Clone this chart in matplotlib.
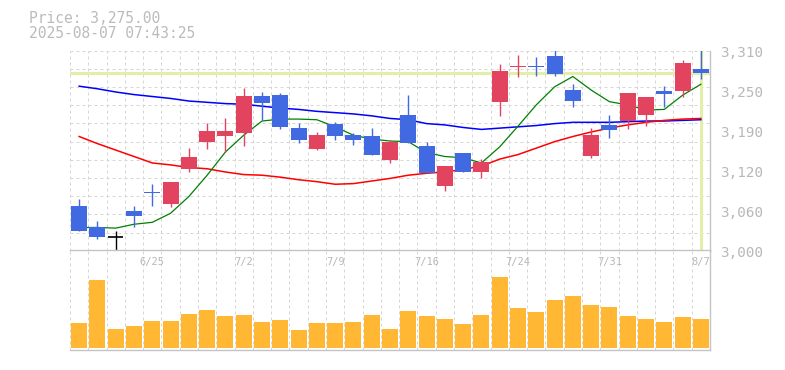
import matplotlib
matplotlib.use("Agg")
import matplotlib.pyplot as plt
from matplotlib.transforms import blended_transform_factory

# daily data 6/19 .. 8/7 (35 trading days)
dates = ["6/19", "6/20", "6/23", "6/24", "6/25", "6/26", "6/27", "6/30", "7/1", "7/2",
         "7/3", "7/4", "7/7", "7/8", "7/9", "7/10", "7/11", "7/14", "7/15", "7/16",
         "7/17", "7/18", "7/22", "7/23", "7/24", "7/25", "7/28", "7/29", "7/30", "7/31",
         "8/1", "8/4", "8/5", "8/6", "8/7"]
opens = [3069, 3036, 3021, 3062, 3091, 3073, 3127, 3169, 3178, 3183,
         3240, 3241, 3190, 3158, 3196, 3179, 3178, 3141, 3210, 3162,
         3101, 3151, 3122, 3231, 3285, 3286, 3302, 3249, 3147, 3195,
         3201, 3210, 3248, 3247, 3282]
highs = [3080, 3046, 3030, 3069, 3103, 3107, 3159, 3198, 3206, 3252,
         3246, 3245, 3198, 3184, 3200, 3182, 3190, 3172, 3241, 3169,
         3131, 3151, 3142, 3289, 3303, 3301, 3318, 3258, 3190, 3210,
         3244, 3238, 3255, 3296, 3320]
lows = [3031, 3018, 3000, 3037, 3070, 3067, 3122, 3158, 3153, 3163,
        3203, 3189, 3167, 3156, 3172, 3164, 3149, 3136, 3167, 3121,
        3093, 3122, 3113, 3209, 3270, 3271, 3271, 3222, 3144, 3175,
        3189, 3194, 3223, 3239, 3266]
closes = [3031, 3022, 3021, 3054, 3089, 3107, 3145, 3186, 3186, 3240,
          3229, 3192, 3172, 3179, 3178, 3172, 3149, 3169, 3167, 3121,
          3131, 3122, 3137, 3278, 3287, 3284, 3274, 3232, 3179, 3187,
          3244, 3238, 3243, 3291, 3275]
volume = [76, 204, 57, 66, 81, 81, 102, 114, 96, 99,
          78, 84, 54, 75, 75, 78, 99, 57, 111, 96,
          87, 72, 99, 213, 120, 108, 144, 156, 129, 123,
          96, 87, 78, 93, 87]
ma5 = [3036, 3036, 3035, 3041, 3044, 3058, 3084, 3117, 3153, 3179,
       3201, 3204, 3204, 3203, 3192, 3179, 3173, 3170, 3169, 3152,
       3146, 3144, 3136, 3161, 3193, 3226, 3254, 3270, 3249, 3231,
       3226, 3218, 3219, 3241, 3258]
ma25 = [3177, 3166, 3156, 3146, 3136, 3133, 3129, 3127, 3122, 3118,
        3117, 3114, 3110, 3107, 3103, 3104, 3108, 3112, 3117, 3120,
        3122, 3126, 3131, 3142, 3149, 3159, 3169, 3177, 3184, 3190,
        3195, 3199, 3202, 3204, 3205]
ma75 = [3255, 3251, 3246, 3242, 3239, 3236, 3232, 3230, 3228, 3227,
        3224, 3221, 3219, 3216, 3214, 3212, 3209, 3205, 3203, 3197,
        3195, 3191, 3188, 3190, 3192, 3194, 3197, 3199, 3199, 3199,
        3200, 3201, 3201, 3202, 3203]
label_idx = [4, 9, 14, 19, 24, 29, 34]
label_text = ["6/25", "7/2", "7/9", "7/16", "7/24", "7/31", "8/7"]
price_ticks = [3000, 3062, 3124, 3186, 3248, 3310]
price_tick_labels = ["3,000", "3,060", "3,120", "3,190", "3,250", "3,310"]
cur_price = 3275.00
cur_time = "2025-08-07 07:43:25"

UP = "#e2435f"
DOWN = "#4169e1"
GRID = "#d6d6d6"
TXT = "#b8b8b8"
CUR = "#e3efa8"
mono = "DejaVu Sans Mono"

W, H = 785, 370
fig = plt.figure(figsize=(W / 100, H / 100), dpi=100)
ax = fig.add_axes([70 / W, (H - 250.7) / H, 640 / W, 200 / H])
axv = fig.add_axes([70 / W, (H - 350) / H, 640 / W, 99.7 / H])

n = len(closes)
for a in (ax, axv):
    a.set_xlim(-0.5, n - 0.5)
    a.set_xticks([])
    a.set_yticks([])
    for s in a.spines.values():
        s.set_color("#c4c4c4")
        s.set_linewidth(1)
    a.spines["left"].set_visible(False)
    for k in range(n + 1):
        a.axvline(k - 0.5, color=GRID, lw=0.72, ls=(0, (3, 3)), zorder=0)
ax.spines["top"].set_visible(False)

lo, hi = 3000, 3310
ax.set_ylim(lo, hi)
for k in range(12):
    ax.axhline(lo + k * (hi - lo) / 11, color=GRID, lw=0.72, ls=(0, (3, 3)), zorder=0)

# current price crosshair
ax.axhline(cur_price, color=CUR, lw=2.2, zorder=1)
ax.axvline(n - 1, color=CUR, lw=2.2, zorder=1)

xs = list(range(n))
ax.plot(xs, ma75, color="#0000ff", lw=1.1, zorder=2, drawstyle="default")
ax.plot(xs, ma25, color="#ff0000", lw=1.1, zorder=2)
ax.plot(xs, ma5, color="#008000", lw=0.9, zorder=2)

for i in range(n):
    o, h, l, c = opens[i], highs[i], lows[i], closes[i]
    if c > o:
        col = UP
    elif c < o:
        col = DOWN
    else:
        col = "black"
    ax.vlines(i, l, h, color=col, lw=1.0, zorder=3)
    if o == c:
        ax.hlines(o, i - 0.42, i + 0.42, color=col, lw=1.2, zorder=4)
    else:
        ax.bar(i, abs(c - o), bottom=min(o, c), width=0.87, color=col, zorder=4)

# right side price labels
tr = blended_transform_factory(ax.transAxes, ax.transData)
for v, t in zip(price_ticks, price_tick_labels):
    ax.text(650 / 640, v - 3, t, transform=tr, ha="left", va="center",
            fontsize=10.3, color=TXT, family=mono, clip_on=False)

# volume panel
axv.bar(xs, volume, width=0.87, color="#ffb734", zorder=2)
axv.set_ylim(-6, 294)
trv = blended_transform_factory(axv.transData, axv.transAxes)
for i, t in zip(label_idx, label_text):
    axv.text(i, 0.88, t, transform=trv, ha="center", va="center",
             fontsize=7.5, color=TXT, family=mono, zorder=3)

fig.text(29 / W, 1 - 18.5 / H, "Price: {:,.2f}".format(cur_price), ha="left", va="center",
         fontsize=10.5, color="#bbbbbb", family=mono)
fig.text(29 / W, 1 - 33 / H, cur_time, ha="left", va="center",
         fontsize=10.5, color="#bbbbbb", family=mono)

fig.savefig("out.png", dpi=100)
